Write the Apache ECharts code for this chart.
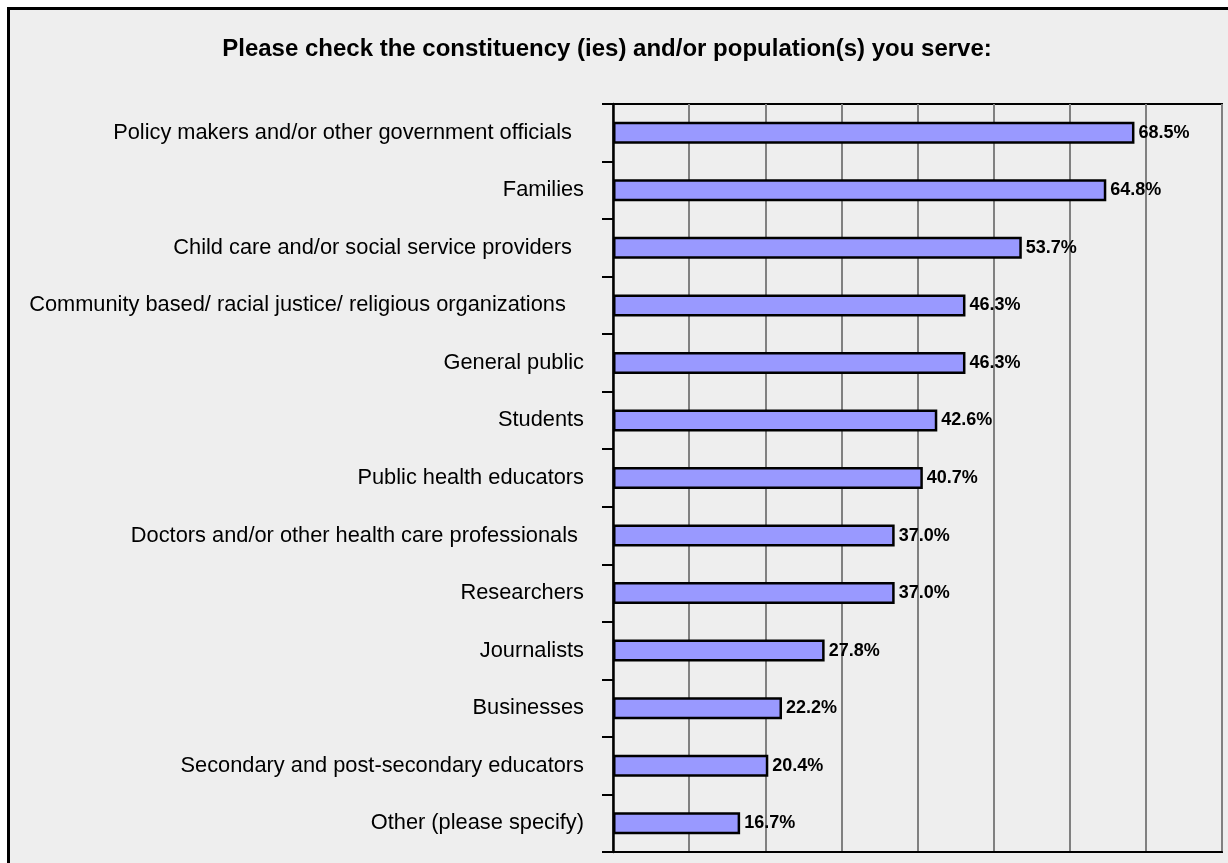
<!DOCTYPE html>
<html>
<head>
<meta charset="utf-8">
<script src="https://cdn.jsdelivr.net/npm/echarts@6/dist/echarts.min.js"></script>
<style>
html,body{margin:0;padding:0;background:#fff;}
#main{width:1228px;height:863px;}
</style>
</head>
<body>
<div id="main"></div>
<script>
const titleText = 'Please check the constituency (ies) and/or population(s) you serve:';
const categories = [
  'Policy makers and/or other government officials  ',
  'Families',
  'Child care and/or social service providers  ',
  'Community based/ racial justice/ religious organizations   ',
  'General public',
  'Students',
  'Public health educators',
  'Doctors and/or other health care professionals ',
  'Researchers',
  'Journalists',
  'Businesses',
  'Secondary and post-secondary educators',
  'Other (please specify)'
];
const values = [68.5, 64.8, 53.7, 46.3, 46.3, 42.6, 40.7, 37.0, 37.0, 27.8, 22.2, 20.4, 16.7];
const axisMin = 0, axisMax = 80, axisInterval = 10;

const chart = echarts.init(document.getElementById('main'));
chart.setOption({
  backgroundColor: '#ffffff',
  animation: false,
  graphic: [{
    type: 'rect', z: -10, silent: true,
    shape: {x: 8.5, y: 8.5, width: 1240, height: 900},
    style: {fill: '#eeeeee', stroke: '#000', lineWidth: 3}
  }],
  title: {
    text: titleText, left: 602, textAlign: 'center', top: 32,
    textStyle: {fontFamily: 'Liberation Sans', fontSize: 24, fontWeight: 'bold', color: '#000'}
  },
  grid: {left: 613, top: 104, width: 609, height: 748, show: true, borderColor: '#000', borderWidth: 2, backgroundColor: 'transparent'},
  xAxis: {
    type: 'value', min: axisMin, max: axisMax, interval: axisInterval,
    axisLine: {show: true, lineStyle: {color: '#000', width: 2}},
    axisTick: {show: false},
    axisLabel: {show: false},
    splitLine: {show: true, lineStyle: {color: '#808080', width: 2}}
  },
  yAxis: {
    type: 'category', data: categories, inverse: true,
    axisLine: {show: true, lineStyle: {color: '#000', width: 2.5}},
    axisTick: {show: true, length: 11, lineStyle: {color: '#000', width: 2}},
    axisLabel: {fontFamily: 'Liberation Sans', fontSize: 21.8, color: '#000', margin: 29}
  },
  series: [{
    type: 'bar', data: values, barWidth: 22,
    itemStyle: {color: '#9999ff', borderColor: '#000', borderWidth: 2.5},
    label: {
      show: true, position: 'right', distance: 4,
      fontFamily: 'Liberation Sans', fontSize: 18, fontWeight: 'bold', color: '#000',
      formatter: p => p.value.toFixed(1) + '%'
    }
  }]
});
</script>
</body>
</html>
